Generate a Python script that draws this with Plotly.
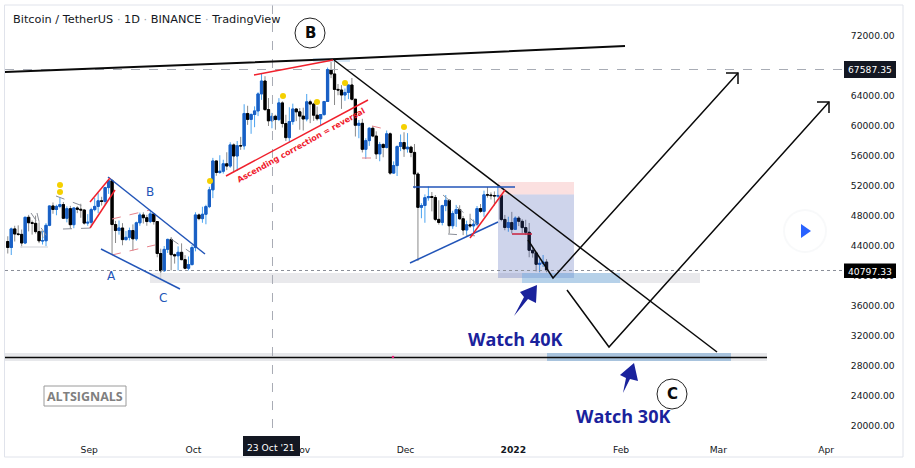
import pandas as pd
import plotly.graph_objects as go

W, H = 915, 468
PL, PR, PT, PB = 5, 843, 5, 437

dates = pd.date_range("2021-08-08", "2022-01-10", freq="D").strftime("%Y-%m-%d").tolist()

opens = [44600,43800,46280,45600,45550,44400,47830,47100,47020,45920,44690,44700,46760,49340,48870,49280,49520,47700,48980,46840,49070,48900,48800,47050,
47160,48850,49280,50025,49940,51790,52700,46860,46070,46400,44850,45150,46060,44960,47090,48140,47770,47260,48280,47260,43000,40700,43550,44880,42840,42700,43160,42180,41030,41520,
43790,48140,47650,48230,49250,51490,55340,53800,53970,54960,54660,57480,56000,57370,57350,61670,60880,61530,62010,64280,66000,62190,60690,61300,60860,63080,60330,58450,60590,62270,61890,
61320,60930,63220,62930,61440,60970,61520,63270,67530,66940,64880,64800,64130,64470,65470,63570,60100,60360,56890,58050,59700,58660,56280,57540,57140,58960,53720,54720,57270,57800,
56950,57180,56480,53600,49150,49400,50440,50590,50470,47550,47140,49380,50090,46700,48340,48860,47630,46130,46830,46680,46910,48990,48620,50820,50800,50720,50680,50700,47540,46470,47120,
46220,47720,47290,46450,45830,43430,43080,41560,41680,41860]
highs = [45300,46450,46700,46750,46200,47880,48150,47400,48050,47160,46000,47050,49380,49800,49500,50500,49870,49290,49350,49150,49300,49630,48900,48250,
49100,50400,51050,50560,51900,52780,52920,47350,47400,47050,45990,46450,46880,47250,48450,48490,48150,48820,48370,47330,43640,44000,44980,45200,43000,43950,44350,42780,42600,44130,
48500,48330,49230,49500,51890,55750,55340,56100,55500,56500,57830,57680,58000,58550,62900,62700,61700,62620,64490,67000,66640,63730,61750,61500,63710,63290,61500,62500,62980,62350,62400,
62440,64270,63500,63100,62600,61560,63290,67790,68530,69000,65600,65450,65000,65500,66400,63570,60800,60960,58370,59850,60000,59290,57880,57700,59400,59150,55280,57400,58870,59170,
59050,57370,57600,53860,49700,50880,51940,51200,50800,50100,49500,50800,50200,48700,49480,49430,48000,47380,48300,47530,49330,49600,51380,51870,51150,51280,52090,50700,48140,47900,48550,
47950,47990,47570,47500,47070,43800,43150,42300,42800,42250]
lows = [43000,42800,44600,45350,43770,44250,45950,45520,45660,44380,44200,43930,46640,48300,48100,49030,47600,47150,46300,46370,48380,47760,46850,46700,
46510,48630,48370,49400,49500,50950,42850,44400,45510,44100,44730,44740,43370,44700,46700,47000,46700,47050,46850,42500,39600,40570,43070,40750,41650,40750,42100,40890,40750,41410,
43290,47430,47100,46900,49050,50380,53360,53620,53660,54110,54420,53880,54000,56820,56850,60150,58960,59840,61320,63480,62000,60000,59700,59500,60660,59800,58000,57820,60170,60650,59500,
59400,60620,60380,60680,60720,60050,61380,63270,66380,62800,64100,62280,63360,63580,63400,58600,58370,56470,55600,57350,58500,55600,55300,55830,57000,53500,53610,53330,56650,55880,
56450,55840,51680,42000,47700,47100,50040,48620,47320,46850,46750,48640,45670,46290,46550,47500,45450,45500,46410,45550,46630,48420,47900,50450,50200,49400,50450,47300,46100,45900,45680,
46200,46650,45700,45500,42500,42450,40610,40500,41200,40500]
closes = [43800,46280,45600,45550,44400,47830,47100,47020,45920,44690,44700,46760,49340,48870,49280,49520,47700,48980,46840,49070,48900,48800,47050,47160,
48850,49280,50025,49940,51790,52700,46860,46070,46400,44850,45150,46060,44960,47090,48140,47770,47260,48280,47260,43000,40700,43550,44880,42840,42700,43160,42180,41030,41520,43790,
48140,47650,48230,49250,51490,55340,53800,53970,54960,54660,57480,56000,57370,57350,61670,60880,61530,62010,64280,66000,62190,60690,61300,60860,63080,60330,58450,60590,62270,61890,61320,
60930,63220,62930,61440,60970,61520,63270,67530,66940,64880,64800,64130,64470,65470,63570,60100,60360,56890,58050,59700,58660,56280,57540,57140,58960,53720,54720,57270,57800,56950,
57180,56480,53600,49150,49400,50440,50590,50470,47550,47140,49380,50090,46700,48340,48860,47630,46130,46830,46680,46910,48990,48620,50820,50800,50720,50680,50700,47540,46470,47120,46220,
47720,47290,46450,45830,43430,43080,41560,41680,41860,40797.33]

tick_dates = ["2021-09-01","2021-10-01","2021-11-01","2021-12-01","2022-01-01","2022-02-01","2022-03-01","2022-04-01"]
tick_names = ["Sep","Oct","Nov","Dec","<b>2022</b>","Feb","Mar","Apr"]
price_ticks = [20000,24000,28000,32000,36000,40000,44000,48000,52000,56000,60000,64000,72000]

# axis calibration
DAY_PX = 3.476
SEP1_PX = 91.2
PRICE_PX = 7.5 / 1000
Y72K_PX = 36.0
sep1 = pd.Timestamp("2021-09-01")
x_lo = (sep1 + pd.Timedelta(days=(PL - SEP1_PX) / DAY_PX)).strftime("%Y-%m-%d %H:%M")
x_hi = (sep1 + pd.Timedelta(days=(PR - SEP1_PX) / DAY_PX)).strftime("%Y-%m-%d %H:%M")
y_hi = 72000 + (Y72K_PX - PT) / PRICE_PX
y_lo = 72000 - (PB - Y72K_PX) / PRICE_PX

fx = lambda x: (x - PL) / (PR - PL)
fy = lambda y: (PB - y) / (PB - PT)

shapes, notes = [], []
FONT = "DejaVu Sans"
NAVY, RED, BLUE, BLACK = "#1a229c", "#f0202c", "#2255b8", "#0a0a0a"

def rect(x0, y0, x1, y1, fill, line=None):
    shapes.append(dict(type="rect", xref="paper", yref="paper", x0=fx(x0), x1=fx(x1), y0=fy(y1), y1=fy(y0),
                       fillcolor=fill, line=dict(width=1 if line else 0, color=line or "rgba(0,0,0,0)")))

def line(pts, color, width=1.5, dash="solid"):
    path = "M" + " L".join(f"{fx(x):.5f},{fy(y):.5f}" for x, y in pts)
    shapes.append(dict(type="path", xref="paper", yref="paper", path=path, line=dict(color=color, width=width, dash=dash)))

def poly(pts, fill):
    path = "M" + " L".join(f"{fx(x):.5f},{fy(y):.5f}" for x, y in pts) + " Z"
    shapes.append(dict(type="path", xref="paper", yref="paper", path=path, fillcolor=fill, line=dict(width=0)))

def circle(cx, cy, r, fill, edge=None, width=1):
    shapes.append(dict(type="circle", xref="paper", yref="paper", x0=fx(cx - r), x1=fx(cx + r), y0=fy(cy + r), y1=fy(cy - r),
                       fillcolor=fill, line=dict(color=edge or "rgba(0,0,0,0)", width=width if edge else 0)))

def text(x, y, s, size, color, anchor="center", angle=0, family=FONT):
    notes.append(dict(xref="paper", yref="paper", x=fx(x), y=fy(y), text=s, showarrow=False, xanchor=anchor, yanchor="middle",
                      textangle=angle, font=dict(size=size, color=color, family=family)))

# zones
rect(150, 273, 700, 283, "rgba(225,226,230,0.75)")
rect(5, 353, 767, 361, "rgba(225,226,230,0.8)")
rect(498, 182, 574, 194.5, "rgba(240,130,130,0.25)")
rect(498, 194.5, 574, 278, "rgba(60,85,175,0.25)")
rect(522, 273, 620, 283, "rgba(90,165,230,0.35)")
rect(547, 353, 731, 361, "rgba(90,150,205,0.45)")
rect(20, 246, 48, 248, "rgba(225,226,230,0.8)")
rect(313, 58, 350, 62, "rgba(150,195,235,0.4)")

# crosshair and price line
line([(272.5, 5), (272.5, 437)], "#a8acb5", 1, "dash")
line([(5, 69.5), (843, 69.5)], "#a8acb5", 1, "dash")
line([(5, 270.5), (843, 270.5)], "#8a8e98", 1, "dot")

# gray dashed patterns
for pts in [[(31, 213), (48, 238)], [(37, 213), (43, 238)], [(56, 196), (88, 208)], [(63, 229), (93, 228)],
            [(171, 239), (190, 252)], [(443, 195), (478, 225)], [(448, 234), (478, 236)]]:
    line(pts, "#8a8e98", 1, "dash")
# red dashed patterns
for pts in [[(112, 219), (150, 210)], [(112, 255), (155, 245)], [(372, 126), (385, 129)], [(362, 158), (375, 158)]]:
    line(pts, "#e8848c", 1, "dash")

# black structure
line([(5, 72), (337, 59), (625, 46)], BLACK, 2)
line([(334, 60), (717, 352)], BLACK, 1.5)
line([(5, 357.5), (767, 357.5)], BLACK, 1.5)
line([(528, 240), (553, 278), (738, 73)], BLACK, 1.5)
line([(726, 73), (738, 73), (738, 84)], BLACK, 1.5)
line([(567, 290), (609, 347), (829, 102)], BLACK, 1.5)
line([(817, 102), (829, 102), (829, 113)], BLACK, 1.5)
circle(393, 357, 1.3, "#e8207a")

# blue structure
line([(108, 177), (205, 254)], BLUE, 1.5)
line([(101, 249), (180, 289)], BLUE, 1.5)
line([(413, 187), (515, 187)], BLUE, 1.5)
line([(410, 263), (498, 222)], BLUE, 1.5)

# red structure
line([(90, 202), (110, 178)], RED, 1.5)
line([(90, 228), (115, 190)], RED, 1.5)
line([(254, 75), (333, 60)], RED, 1.5)
line([(226, 176), (368, 100)], RED, 1.5)
line([(470, 238), (505, 190)], RED, 1.5)
line([(512, 234), (532, 234)], "#c8203c", 1.5)

# gold dots
for cx, cy in [(60, 185), (60, 192), (210, 181), (283, 96), (317, 102), (345, 83), (404, 127)]:
    circle(cx, cy, 3, "#f5d000")

# block arrows
poly([(537, 285), (520, 292), (524, 297), (514, 316), (528, 299), (536, 303)], NAVY)
poly([(634, 363), (620, 375), (626, 378), (623, 393), (630, 379), (638, 381)], NAVY)

# ring labels
circle(310, 33, 15, "#ffffff", "#222222", 1)
circle(672, 394, 15, "#ffffff", "#222222", 1)
text(310, 33, "<b>B</b>", 15, BLACK)
text(672, 394, "<b>C</b>", 15, BLACK)

# logo
rect(44, 386, 126, 406, "#ffffff", "#9a9a9a")
text(85, 396, "<b>ALTSIGNALS</b>", 12.5, "#808080", family="Open Sans")

# play button
circle(805, 231, 22, "rgba(240,241,245,0.45)")
circle(805, 231, 20, "#ffffff")
poly([(801, 224), (801, 238), (811, 231)], "#2962ff")

# price and date tags
rect(844, 61, 896, 78, "#131722")
rect(844, 263.5, 896, 278, "#000000")
rect(243, 436, 300, 456, "#131722")
text(870, 69.5, "67587.35", 9.2, "#ffffff")
text(870, 271, "40797.33", 9.2, "#ffffff")
text(271, 447, "23 Oct '21", 9.2, "#ffffff")

# labels
text(10.5, 20, 'Bitcoin / TetherUS <span style="color:#9a9ea8">·</span> 1D <span style="color:#9a9ea8">·</span> BINANCE <span style="color:#9a9ea8">·</span> TradingView', 11.3, "#131722", "left")
text(112, 276, "A", 12, BLUE)
text(150, 192, "B", 12, BLUE)
text(163, 298, "C", 12, BLUE)
text(301, 146, "<b>Ascending correction = reversal</b>", 8, RED, angle=-29)
text(515, 339, "<b>Watch 40K</b>", 18, NAVY, family="Open Sans")
text(623, 416, "<b>Watch 30K</b>", 18, NAVY, family="Open Sans")

# frame
line([(4.5, 5), (903, 5), (903, 457), (4.5, 457), (4.5, 5)], "#e0e3eb", 1)

body_tops = [max(o, c) for o, c in zip(opens, closes)]
body_bottoms = [min(o, c) for o, c in zip(opens, closes)]

fig = go.Figure()
fig.add_trace(go.Candlestick(
    x=dates, open=opens, high=highs, low=lows, close=closes,
    whiskerwidth=0, hoverinfo="skip",
    increasing=dict(line=dict(color="#4aa3f0", width=1), fillcolor="#1a5fc4"),
    decreasing=dict(line=dict(color="#8a8a8a", width=1), fillcolor="#000000"),
))
fig.add_trace(go.Candlestick(
    x=dates, open=opens, high=body_tops, low=body_bottoms, close=closes,
    whiskerwidth=0, hoverinfo="skip",
    increasing=dict(line=dict(color="#1a5fc4", width=1), fillcolor="#1a5fc4"),
    decreasing=dict(line=dict(color="#000000", width=1), fillcolor="#000000"),
))

fig.update_layout(
    width=W, height=H, autosize=False,
    margin=dict(l=PL, r=W - PR, t=PT, b=H - PB, pad=0),
    paper_bgcolor="#ffffff", plot_bgcolor="#ffffff",
    showlegend=False, shapes=shapes, annotations=notes,
    boxgap=0.2, boxgroupgap=0.2,
    font=dict(family=FONT, size=9.2, color="#131722"),
    xaxis=dict(type="date", range=[x_lo, x_hi], rangeslider=dict(visible=False), showgrid=False, zeroline=False,
               showline=False, tickmode="array", tickvals=tick_dates, ticktext=tick_names,
               ticks="outside", ticklen=4, tickcolor="rgba(0,0,0,0)", tickfont=dict(size=9.2), ticklabelshift=-2),
    yaxis=dict(side="right", range=[y_lo, y_hi], showgrid=False, zeroline=False, showline=False,
               tickmode="array", tickvals=price_ticks, tickformat=".2f",
               ticks="outside", ticklen=5, tickcolor="rgba(0,0,0,0)", tickfont=dict(size=9.2)),
)

fig.write_html("out.html", post_script="document.body.style.margin='0';", config=dict(displayModeBar=False))
